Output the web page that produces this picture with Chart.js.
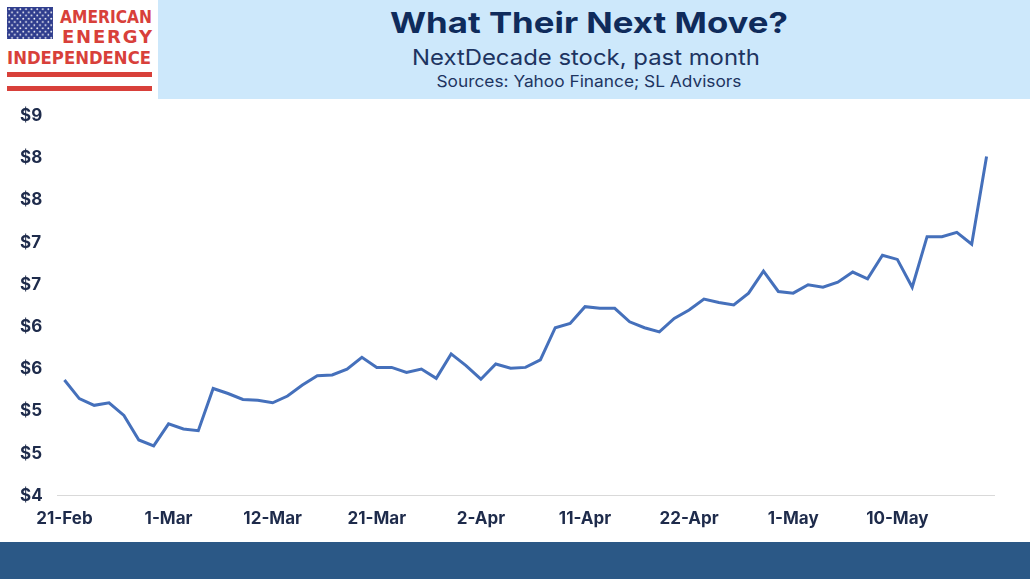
<!DOCTYPE html>
<html>
<head>
<meta charset="utf-8">
<script src="https://cdn.jsdelivr.net/npm/chart.js@4.4.1/dist/chart.umd.min.js"></script>
<style>
  html, body { margin: 0; padding: 0; background: #fff; }
  body { width: 1030px; height: 579px; position: relative; overflow: hidden; font-family: Inter, "Liberation Sans", sans-serif; }
  #head { position: absolute; left: 0; top: 0; }
  #wrap { position: absolute; left: 0; top: 102px; width: 1030px; height: 440px; }
  #foot { position: absolute; left: 0; top: 542px; width: 1030px; height: 37px; background: #2b5886; }
</style>
</head>
<body>
<svg id="head" width="1030" height="100" xmlns="http://www.w3.org/2000/svg">
  <defs>
    <pattern id="stars" x="8" y="8" width="5.6" height="6.4" patternUnits="userSpaceOnUse">
      <circle cx="1.2" cy="1.2" r="0.9" fill="#ffffff"/>
      <circle cx="4" cy="4.4" r="0.9" fill="#ffffff"/>
    </pattern>
  </defs>
  <rect x="158" y="0" width="872" height="99" fill="#cde8fb"/>
  <rect x="7" y="7" width="46" height="32" fill="#2f3d8d"/>
  <rect x="7" y="7" width="46" height="32" fill="url(#stars)"/>
  <g font-family="'DejaVu Sans', sans-serif" font-weight="bold" fill="#d8403a">
    <text x="60" y="23" font-size="18" textLength="92" lengthAdjust="spacingAndGlyphs">AMERICAN</text>
    <text x="62" y="43" font-size="18" textLength="90" lengthAdjust="spacing">ENERGY</text>
    <text x="7" y="64" font-size="18" textLength="144" lengthAdjust="spacingAndGlyphs">INDEPENDENCE</text>
  </g>
  <rect x="7" y="72" width="145" height="5" fill="#d8403a"/>
  <rect x="7" y="86" width="145" height="5" fill="#d8403a"/>
  <g text-anchor="middle" font-family="Inter, 'Liberation Sans', sans-serif">
    <text x="589" y="33" font-size="29" font-weight="bold" fill="#0f2b5b" textLength="398" lengthAdjust="spacingAndGlyphs">What Their Next Move?</text>
    <text x="586" y="65" font-size="22" fill="#1d3461" textLength="348" lengthAdjust="spacingAndGlyphs">NextDecade stock, past month</text>
    <text x="589" y="87" font-size="16" fill="#1d3461" textLength="305" lengthAdjust="spacingAndGlyphs">Sources: Yahoo Finance; SL Advisors</text>
  </g>
</svg>
<div id="wrap"><canvas id="myChart"></canvas></div>
<div id="foot"></div>
<script>
// trading days, 21-Feb to 20-May
const dates = [
  '21-Feb', '22-Feb', '23-Feb', '26-Feb', '27-Feb', '28-Feb', '29-Feb',
  '1-Mar', '4-Mar', '5-Mar', '6-Mar', '7-Mar', '8-Mar', '11-Mar', '12-Mar',
  '13-Mar', '14-Mar', '15-Mar', '18-Mar', '19-Mar', '20-Mar', '21-Mar',
  '22-Mar', '25-Mar', '26-Mar', '27-Mar', '28-Mar',
  '1-Apr', '2-Apr', '3-Apr', '4-Apr', '5-Apr', '8-Apr', '9-Apr', '10-Apr', '11-Apr',
  '12-Apr', '15-Apr', '16-Apr', '17-Apr', '18-Apr', '19-Apr', '22-Apr',
  '23-Apr', '24-Apr', '25-Apr', '26-Apr', '29-Apr', '30-Apr',
  '1-May', '2-May', '3-May', '6-May', '7-May', '8-May', '9-May', '10-May',
  '13-May', '14-May', '15-May', '16-May', '17-May', '20-May'
]
const prices = [
  5.37, 5.15, 5.07, 5.10, 4.95, 4.66, 4.59,
  4.85, 4.79, 4.77, 5.27, 5.21, 5.14, 5.13, 5.10,
  5.18, 5.31, 5.42, 5.43, 5.50, 5.64, 5.52,
  5.52, 5.46, 5.50, 5.39, 5.68,
  5.54, 5.38, 5.56, 5.51, 5.52, 5.61, 5.99, 6.04, 6.24,
  6.22, 6.22, 6.06, 5.99, 5.94, 6.10, 6.20,
  6.33, 6.29, 6.26, 6.40, 6.66, 6.42,
  6.40, 6.50, 6.47, 6.53, 6.65, 6.57, 6.85, 6.80,
  6.47, 7.07, 7.07, 7.12, 6.98, 8.02
]
// axis runs 4 to 8.5 in 0.5 steps, labels shown with no decimals
const yTicks = [4, 4.5, 5, 5.5, 6, 6.5, 7, 7.5, 8, 8.5]
const yTickLabels = ['$4', '$5', '$5', '$6', '$6', '$7', '$7', '$8', '$8', '$9']
const labelEvery = 7

const tickFont = { family: 'Inter', size: 17, weight: 'bold' }
const tickColor = '#1e2b4b'

const ctx = document.getElementById('myChart').getContext('2d');

const myChart = new Chart(ctx, {
    type: 'line',
    data: {
        labels: dates,
        datasets: [{
            label: 'NextDecade',
            data: prices,
            borderColor: '#4570bb',
            borderWidth: 3,
            pointRadius: 0,
            tension: 0,
            fill: false
        }]
    },
    options: {
        responsive: true,
        maintainAspectRatio: false,
        animation: false,
        layout: { padding: { top: 14, right: 36, bottom: 0, left: 20 } },
        plugins: { legend: { display: false }, tooltip: { enabled: false } },
        scales: {
            x: {
                offset: true,
                grid: { display: false, drawTicks: false },
                border: { display: true, color: '#d9d9d9', width: 1 },
                ticks: {
                    autoSkip: false,
                    maxRotation: 0,
                    padding: 13,
                    color: tickColor,
                    font: tickFont,
                    callback: (v, i) => i % labelEvery === 0 ? dates[i] : null
                }
            },
            y: {
                min: yTicks[0],
                max: yTicks[yTicks.length - 1],
                afterBuildTicks: scale => {
                    scale.ticks = yTicks.map(v => ({ value: v }))
                },
                afterFit: scale => { scale.width = 37 },
                grid: { display: false, drawTicks: false },
                border: { display: false },
                ticks: {
                    padding: 0,
                    crossAlign: 'far',
                    color: tickColor,
                    font: tickFont,
                    callback: (v, i) => yTickLabels[i]
                }
            }
        }
    }
});
</script>
</body>
</html>
